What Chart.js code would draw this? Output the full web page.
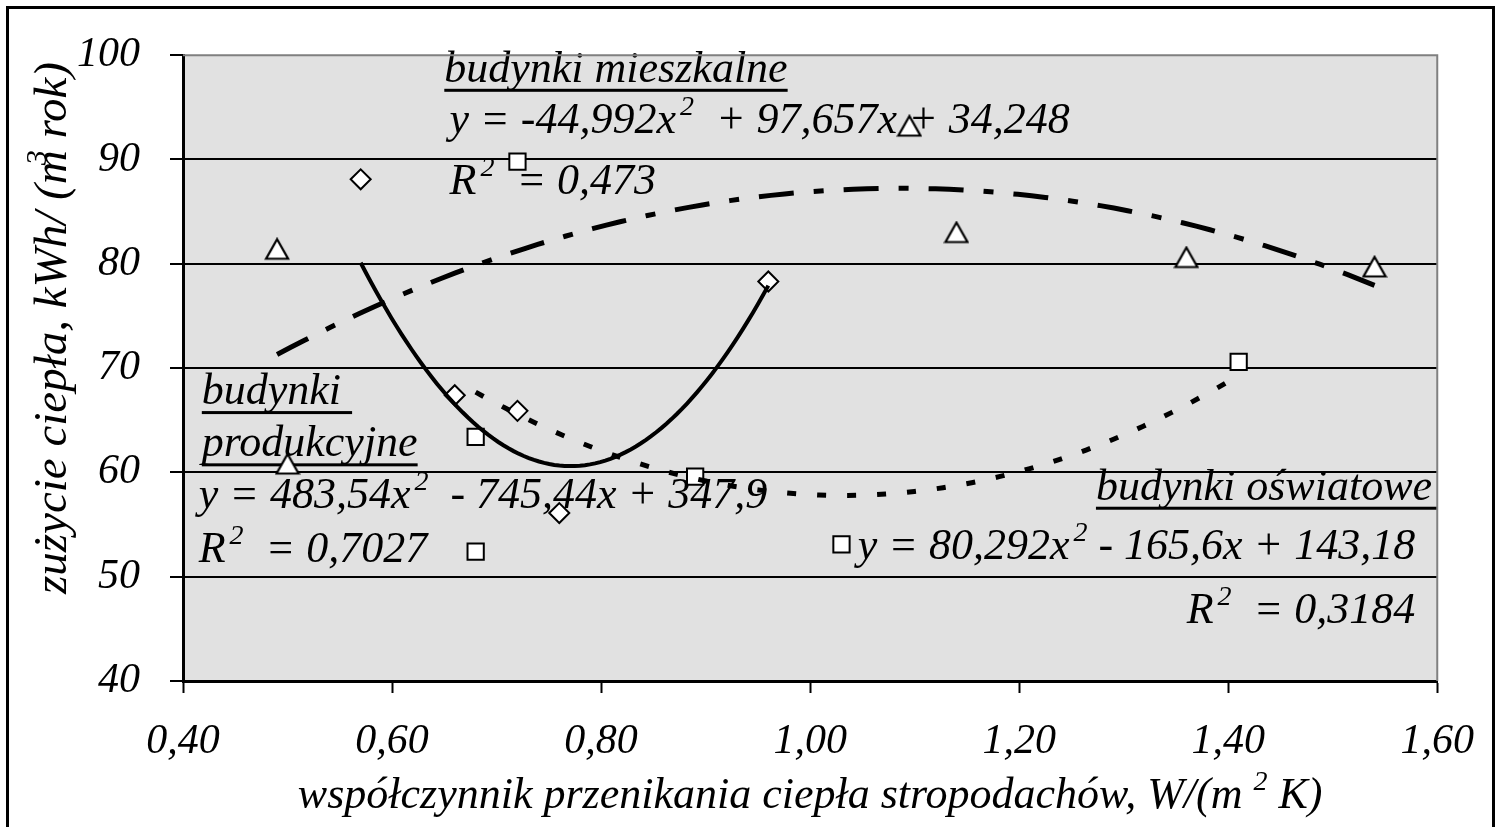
<!DOCTYPE html>
<html>
<head>
<meta charset="utf-8">
<script src="https://cdn.jsdelivr.net/npm/chart.js@4.4.1/dist/chart.umd.min.js"></script>
<style>
  html, body { margin: 0; padding: 0; background: #fff; }
  canvas { display: block; }
</style>
</head>
<body>
<canvas id="chart" width="1498" height="827"></canvas>
<script>
// measured points, grouped by building type
const mieszkalneX = [0.49, 0.50, 1.095, 1.14, 1.36, 1.54];
const mieszkalneY = [81.4, 60.8, 93.2, 83.0, 80.6, 79.7];
const produkcyjneX = [0.57, 0.66, 0.72, 0.76, 0.96];
const produkcyjneY = [88.1, 67.4, 65.9, 56.1, 78.3];
const oswiatoweX = [0.68, 0.68, 0.72, 0.89, 1.03, 1.41];
const oswiatoweY = [63.4, 52.4, 89.8, 59.6, 53.1, 70.6];

// quadratic trendline coefficients [a, b, c] and R²
const mieszkalneFit = [-44.992, 97.657, 34.248];
const mieszkalneR2 = 0.473;
const produkcyjneFit = [483.54, -745.44, 347.9];
const produkcyjneR2 = 0.7027;
const oswiatoweFit = [80.292, -165.6, 143.18];
const oswiatoweR2 = 0.3184;

const xTicks = [0.4, 0.6, 0.8, 1.0, 1.2, 1.4, 1.6];
const yTicks = [40, 50, 60, 70, 80, 90, 100];

const FONT = '"Liberation Serif", "Times New Roman", Times, serif';
const pl = v => String(v).replace('.', ',');

const points = (xs, ys) => xs.map((x, i) => ({x, y: ys[i]}));

// trendline drawn over the x range of its own series
function trend(coef, xs) {
  const lo = Math.min(...xs), hi = Math.max(...xs);
  const pts = [];
  const n = 80;
  for (let i = 0; i <= n; i++) {
    const x = lo + (hi - lo) * i / n;
    pts.push({x, y: coef[0] * x * x + coef[1] * x + coef[2]});
  }
  return pts;
}

function eqRuns(c, gap) {
  const sgn = v => (v < 0 ? '- ' : '+ ') + pl(Math.abs(v));
  return [
    {t: 'y = ' + pl(c[0]) + 'x'},
    {t: '2', sup: true, dx: 4},
    {t: gap + sgn(c[1]) + 'x ' + sgn(c[2])}
  ];
}
const r2Runs = r => [{t: 'R'}, {t: '2', sup: true, dx: 4}, {t: '  = ' + pl(r)}];

// triangle marker, centred on its bounding box
const tri = document.createElement('canvas');
tri.width = 26; tri.height = 24;
(() => {
  const c = tri.getContext('2d');
  c.beginPath();
  c.moveTo(13, 2); c.lineTo(24, 21.5); c.lineTo(2, 21.5); c.closePath();
  c.fillStyle = '#fff'; c.fill();
  c.lineWidth = 2.2; c.strokeStyle = '#000'; c.lineJoin = 'miter'; c.stroke();
})();

// text blocks anchored in data coordinates
const notes = [
  {x: 0.650, y: 97.45, align: 'left', underline: true, runs: [{t: 'budynki mieszkalne'}]},
  {x: 0.655, y: 92.54, align: 'left', runs: eqRuns(mieszkalneFit, '  ')},
  {x: 0.655, y: 86.68, align: 'left', runs: r2Runs(mieszkalneR2)},
  {x: 0.418, y: 66.55, align: 'left', underline: true, runs: [{t: 'budynki '}]},
  {x: 0.418, y: 61.54, align: 'left', underline: true, runs: [{t: 'produkcyjne'}]},
  {x: 0.415, y: 56.63, align: 'left', runs: eqRuns(produkcyjneFit, '  ')},
  {x: 0.415, y: 51.43, align: 'left', runs: r2Runs(produkcyjneR2)},
  {x: 1.595, y: 57.38, align: 'right', underline: true, ulRight: 1.6, runs: [{t: 'budynki oświatowe'}]},
  {x: 1.579, y: 51.70, align: 'right', runs: eqRuns(oswiatoweFit, ' ')},
  {x: 1.579, y: 45.57, align: 'right', runs: r2Runs(oswiatoweR2)}
];

const TXT = 44, SUP = 28, RISE = 18;

function runsWidth(ctx, runs, size, supSize) {
  let w = 0;
  runs.forEach(r => {
    ctx.font = 'italic ' + (r.sup ? supSize : size) + 'px ' + FONT;
    w += ctx.measureText(r.t).width + (r.dx || 0);
  });
  return w;
}

function drawRuns(ctx, runs, x, y, size, supSize, rise) {
  ctx.textBaseline = 'alphabetic';
  ctx.textAlign = 'left';
  ctx.fillStyle = '#000';
  let cx = x;
  runs.forEach(r => {
    ctx.font = 'italic ' + (r.sup ? supSize : size) + 'px ' + FONT;
    cx += r.dx || 0;
    ctx.fillText(r.t, cx, r.sup ? y - rise : y);
    cx += ctx.measureText(r.t).width;
  });
  return cx;
}

const plotBg = {
  id: 'plotBg',
  beforeDraw(chart) {
    const {ctx, chartArea: a} = chart;
    ctx.save();
    ctx.fillStyle = '#fff';
    ctx.fillRect(0, 0, chart.width, chart.height);
    ctx.fillStyle = '#e1e1e1';
    ctx.fillRect(a.left, a.top, a.right - a.left, a.bottom - a.top);
    ctx.restore();
  },
  afterDraw(chart) {
    const {ctx, chartArea: a} = chart;
    ctx.save();
    // light frame on the open sides of the plot
    ctx.strokeStyle = '#808080';
    ctx.lineWidth = 2;
    ctx.beginPath();
    ctx.moveTo(a.left, a.top); ctx.lineTo(a.right, a.top); ctx.lineTo(a.right, a.bottom);
    ctx.stroke();
    // outer frame
    ctx.strokeStyle = '#000';
    ctx.lineWidth = 3;
    ctx.strokeRect(7.5, 7.5, chart.width - 12, chart.height + 20);
    // axis titles
    const xt = [{t: 'współczynnik przenikania ciepła stropodachów, W/(m '}, {t: '2', sup: true}, {t: ' K)'}];
    const xw = runsWidth(ctx, xt, TXT, SUP);
    drawRuns(ctx, xt, (a.left + a.right) / 2 - xw / 2, 808, TXT, SUP, RISE);
    const yt = [{t: 'zużycie ciepła, kWh/ (m'}, {t: '3', sup: true, dx: -15}, {t: ' rok)'}];
    const ySize = 47;
    const yw = runsWidth(ctx, yt, ySize, 30);
    ctx.translate(66, 328);
    ctx.rotate(-Math.PI / 2);
    drawRuns(ctx, yt, -yw / 2, 0, ySize, 30, 20);
    ctx.restore();
  }
};

const notesPlugin = {
  id: 'notes',
  beforeDatasetsDraw(chart) {
    const {ctx, scales: {x: sx, y: sy}} = chart;
    ctx.save();
    notes.forEach(n => {
      const w = runsWidth(ctx, n.runs, TXT, SUP);
      const ax = sx.getPixelForValue(n.x), ay = sy.getPixelForValue(n.y);
      const left = n.align === 'right' ? ax - w : ax;
      drawRuns(ctx, n.runs, left, ay, TXT, SUP, RISE);
      if (n.underline) {
        const right = n.ulRight ? sx.getPixelForValue(n.ulRight) : left + w;
        ctx.fillRect(left, ay + 7, right - left, 3);
      }
    });
    ctx.restore();
  }
};

const markerBase = {type: 'scatter', backgroundColor: '#fff', borderColor: '#000', borderWidth: 2, order: 1};
const lineBase = {type: 'scatter', showLine: true, pointRadius: 0, borderColor: '#000', fill: false, tension: 0, order: 0};

function draw() {
  new Chart(document.getElementById('chart'), {
    type: 'scatter',
    data: {
      datasets: [
        {...markerBase, label: 'budynki mieszkalne', data: points(mieszkalneX, mieszkalneY), pointStyle: tri, pointRadius: 12},
        {...markerBase, label: 'budynki produkcyjne', data: points(produkcyjneX, produkcyjneY), pointStyle: 'rectRot', pointRadius: 10},
        {...markerBase, label: 'budynki oświatowe', data: points(oswiatoweX, oswiatoweY), pointStyle: 'rect', pointRadius: 11.5},
        {...lineBase, label: 'trend mieszkalne', data: trend(mieszkalneFit, mieszkalneX), borderWidth: 5, borderDash: [35, 20, 10, 20]},
        {...lineBase, label: 'trend produkcyjne', data: trend(produkcyjneFit, produkcyjneX), borderWidth: 4},
        {...lineBase, label: 'trend oświatowe', data: trend(oswiatoweFit, oswiatoweX), borderWidth: 5, borderDash: [9, 21]}
      ]
    },
    options: {
      responsive: false,
      animation: false,
      layout: {padding: {top: 46, right: 45, left: 0, bottom: 0}},
      plugins: {legend: {display: false}, tooltip: {enabled: false}},
      scales: {
        x: {
          type: 'linear', min: 0.4, max: 1.6,
          afterBuildTicks: s => { s.ticks = xTicks.map(v => ({value: v})); },
          afterFit: s => { s.height = 146; },
          ticks: {
            callback: v => v.toFixed(2).replace('.', ','),
            font: {family: FONT, size: 42, style: 'italic'},
            color: '#000', padding: 24, maxRotation: 0, autoSkip: false
          },
          grid: {drawOnChartArea: false, tickLength: 12, tickColor: '#000', tickWidth: 2},
          border: {color: '#000', width: 3}
        },
        y: {
          type: 'linear', min: 40, max: 100,
          afterBuildTicks: s => { s.ticks = yTicks.map(v => ({value: v})); },
          afterFit: s => { s.width = 183; },
          ticks: {
            font: {family: FONT, size: 42, style: 'italic'},
            color: '#000', padding: 30, autoSkip: false
          },
          grid: {
            color: c => (c.tick && c.tick.value === 100 ? 'rgba(0,0,0,0)' : '#000'),
            lineWidth: 2, tickLength: 13, tickColor: '#000', tickWidth: 2
          },
          border: {color: '#000', width: 3}
        }
      }
    },
    plugins: [plotBg, notesPlugin]
  });
}

// make sure the italic serif face is ready before painting the canvas
Promise.all([
  document.fonts.load('italic 44px "Liberation Serif"', 'ąęłśżź0123'),
  document.fonts.load('italic 28px "Liberation Serif"', '23')
]).catch(() => {}).then(draw);
</script>
</body>
</html>
